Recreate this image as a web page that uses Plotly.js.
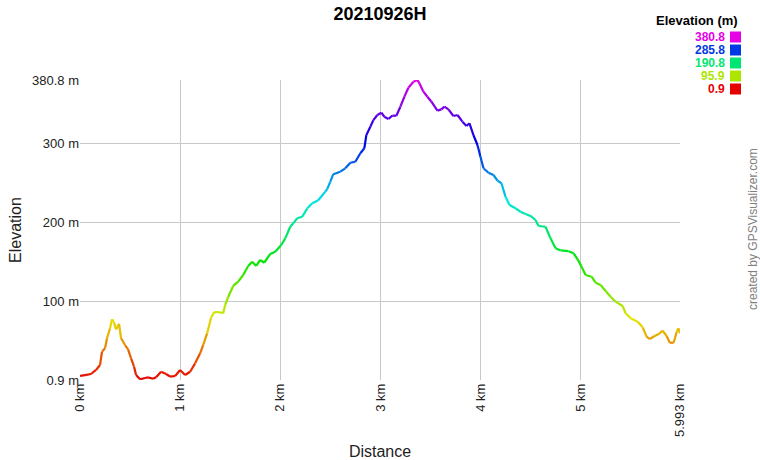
<!DOCTYPE html>
<html>
<head>
<meta charset="utf-8">
<script src="https://cdn.plot.ly/plotly-3.0.1.min.js"></script>
<style>html,body{margin:0;padding:0;background:#fff}#chart{width:760px;height:460px}</style>
</head>
<body>
<div id="chart"></div>
<script>
// Distance along track (km)
const distanceKm = [0.0,0.05,0.11,0.16,0.20,0.22,0.25,0.27,0.30,0.32,0.34,0.36,0.39,0.41,0.45,0.48,0.51,0.54,0.56,0.60,
0.65,0.68,0.73,0.76,0.81,0.86,0.90,0.95,1.00,1.05,1.10,1.15,1.20,1.23,1.27,1.31,1.34,1.38,1.43,1.45,
1.48,1.53,1.58,1.63,1.68,1.72,1.76,1.80,1.84,1.90,1.95,2.01,2.05,2.10,2.13,2.17,2.22,2.27,2.32,2.38,
2.45,2.47,2.50,2.53,2.60,2.65,2.70,2.75,2.80,2.84,2.86,2.90,2.93,2.97,3.01,3.04,3.08,3.12,3.16,3.20,
3.24,3.28,3.33,3.37,3.39,3.43,3.47,3.51,3.57,3.61,3.64,3.68,3.73,3.77,3.82,3.86,3.89,3.93,3.97,4.00,
4.03,4.08,4.13,4.17,4.21,4.25,4.29,4.35,4.40,4.45,4.50,4.55,4.58,4.65,4.70,4.75,4.80,4.88,4.93,4.97,
5.01,5.05,5.11,5.15,5.20,5.25,5.30,5.35,5.42,5.45,5.50,5.57,5.62,5.66,5.69,5.74,5.78,5.82,5.86,5.89,
5.93,5.96,5.977,5.993];
// Elevation (m)
const elevationM = [6,7,8.5,13.6,19.9,36.7,41,53.7,66.4,78,73.5,65,72,53.7,45.2,39.8,28.4,17.7,7.2,1.8,
3.4,4.3,2.5,4.3,11.4,8.5,5.1,6,13.6,7.2,11.4,22,34.7,45.2,60,80,86.6,87,85.5,95.9,
106,120,125.4,133.9,145.3,150.7,145.3,152.9,149.4,160.5,163.4,171.9,180.3,195,199.3,205.7,207.7,218.3,224.7,228.5,
239.4,243,252,261.5,264.7,269,276,277.3,288,294.3,311,321.7,330,336.5,339.4,334.3,331.4,335.6,335.6,347,
359.6,371,378.6,380.8,376.6,366,359.6,353.3,342,343.6,347,343.6,335.2,336.5,328,322.6,326,311.1,298.5,283.7,
269,263.4,260.5,253.3,250,233,222.5,218.3,214,211.1,208.6,203.5,195.9,195,180.3,167.7,165,164,161.3,153.7,
144.4,133.9,131.7,124.1,121.2,113.6,106.4,100.1,94.6,85.4,79,74.7,67.6,55.7,52.8,56.6,59.1,63.3,56.6,48.1,
48.1,62,66.4,60];

const yTickVals = [0.9, 100, 200, 300, 380.8];
const yTickText = ["0.9 m", "100 m", "200 m", "300 m", "380.8 m"];
const xTickVals = [0, 1, 2, 3, 4, 5, 5.993];
const xTickText = ["0 km", "1 km", "2 km", "3 km", "4 km", "5 km", "5.993 km"];
const legendValues = [380.8, 285.8, 190.8, 95.9, 0.9];
const chartTitle = "20210926H";

const eMin = 0.9, eMax = 380.8;
function elevColor(e) {
  let t = (e - eMin) / (eMax - eMin);
  t = Math.max(0, Math.min(1, t));
  const h = 300 * t, s = 1, v = 0.9;
  const c = v * s, hp = h / 60, x = c * (1 - Math.abs(hp % 2 - 1));
  let r = 0, g = 0, b = 0;
  if (hp < 1) { r = c; g = x; }
  else if (hp < 2) { r = x; g = c; }
  else if (hp < 3) { g = c; b = x; }
  else if (hp < 4) { g = x; b = c; }
  else if (hp < 5) { r = x; b = c; }
  else { r = c; b = x; }
  const m = v - c;
  const f = z => Math.round((z + m) * 255);
  return `rgb(${f(r)},${f(g)},${f(b)})`;
}

const traces = [];
for (let i = 0; i < distanceKm.length - 1; i++) {
  traces.push({
    type: 'scatter', mode: 'lines',
    x: [distanceKm[i], distanceKm[i + 1]],
    y: [elevationM[i], elevationM[i + 1]],
    line: { color: elevColor((elevationM[i] + elevationM[i + 1]) / 2), width: 2.2 },
    showlegend: false, hoverinfo: 'skip'
  });
}

// pixel helpers for legend placement (plot area 80..680 x, 80..380 y)
const px = p => (p - 80) / 600;
const py = p => (380 - p) / 300;

const annotations = [
  { text: '<b>Elevation (m)</b>', xref: 'paper', yref: 'paper', x: px(739), y: py(21),
    xanchor: 'right', yanchor: 'middle', showarrow: false, borderpad: 0,
    font: { family: 'Liberation Sans, Arial, sans-serif', size: 13, color: '#000' } },
  { text: 'created by GPSVisualizer.com', xref: 'paper', yref: 'paper', x: px(753), y: py(229),
    xanchor: 'center', yanchor: 'middle', textangle: -90, showarrow: false,
    font: { family: 'Liberation Sans, Arial, sans-serif', size: 12, color: '#808080' } }
];
const shapes = [];
legendValues.forEach((v, i) => {
  const cy = 37 + i * 13;
  annotations.push({ text: '<b>' + v + '</b>', xref: 'paper', yref: 'paper', x: px(726), y: py(cy),
    xanchor: 'right', yanchor: 'middle', showarrow: false, borderpad: 0,
    font: { family: 'Liberation Sans, Arial, sans-serif', size: 12, color: elevColor(v) } });
  shapes.push({ type: 'rect', xref: 'paper', yref: 'paper', x0: px(730), x1: px(741), y0: py(cy - 5.5), y1: py(cy + 5.5),
    fillcolor: elevColor(v), line: { width: 0 } });
});

const layout = {
  width: 760, height: 460,
  margin: { l: 80, r: 80, t: 80, b: 80 },
  paper_bgcolor: '#fff', plot_bgcolor: '#fff',
  font: { family: 'Liberation Sans, Arial, sans-serif', color: '#222' },
  title: { text: '<b>' + chartTitle + '</b>', x: 0.5, xref: 'paper', y: 0.97, yanchor: 'middle',
    font: { size: 18, color: '#000' } },
  xaxis: {
    range: [0, 5.993], tickvals: xTickVals, ticktext: xTickText, tickangle: -90,
    showgrid: true, gridcolor: '#c8c8c8', gridwidth: 1, zeroline: false, showline: false,
    tickfont: { size: 13, color: '#222' },
    title: { text: 'Distance', font: { size: 16, color: '#222' }, standoff: 9 },
    automargin: false, fixedrange: true
  },
  yaxis: {
    range: [0.9, 380.8], tickvals: yTickVals, ticktext: yTickText,
    showgrid: true, gridcolor: '#c8c8c8', gridwidth: 1, zeroline: false, showline: false,
    tickfont: { size: 13, color: '#222' },
    title: { text: 'Elevation', font: { size: 16, color: '#222' }, standoff: 6 },
    automargin: false, fixedrange: true
  },
  annotations: annotations,
  shapes: shapes,
  showlegend: false
};

Plotly.newPlot('chart', traces, layout, { displayModeBar: false, staticPlot: true });
</script>
</body>
</html>
